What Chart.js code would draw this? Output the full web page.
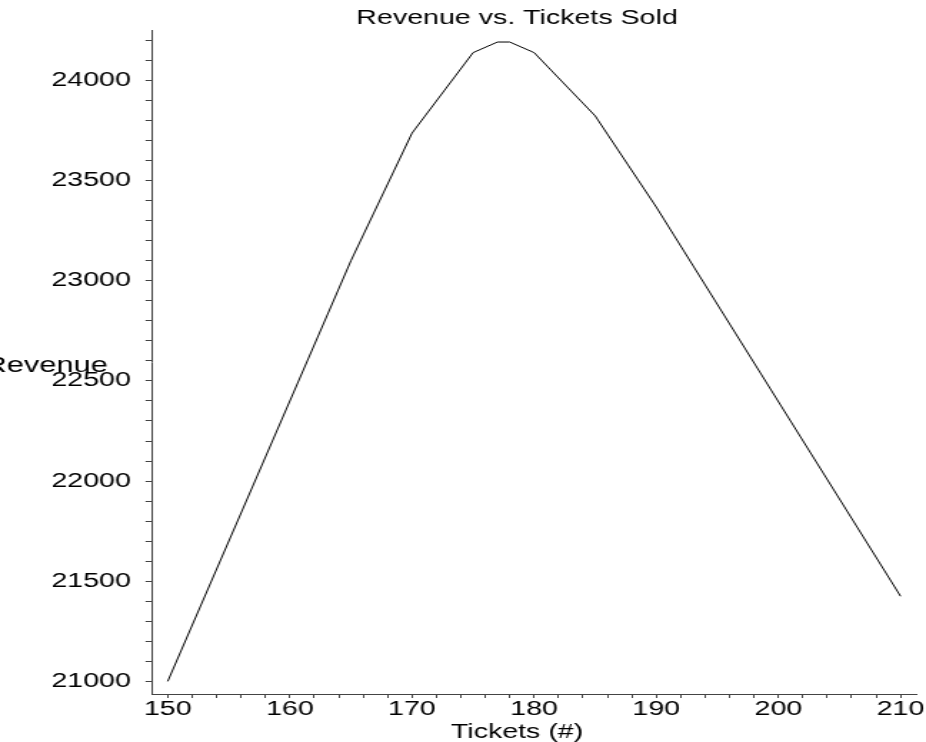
<!DOCTYPE html>
<html>
<head>
<meta charset="utf-8">
<title>Revenue vs. Tickets Sold</title>
<script src="https://cdn.jsdelivr.net/npm/chart.js@4/dist/chart.umd.min.js"></script>
<style>
  html, body { margin: 0; padding: 0; background: #fff; overflow: hidden; }
  /* the original plot has its text stretched sideways, so the chart is drawn narrow and widened */
  #wrap { width: 648px; height: 742px; transform: scaleX(1.42901); transform-origin: 0 0; }
</style>
</head>
<body>
<div id="wrap"><canvas id="revenueChart"></canvas></div>
<script>
const tickets = [150, 165, 170, 175, 177, 178, 180, 185, 190, 210];
const revenue = [21000, 23100, 23737, 24139, 24192, 24192, 24139, 23823, 23368, 21425];

const chartTitle = 'Revenue vs. Tickets Sold';
const xTitle = 'Tickets (#)';
const yTitle = 'Revenue';

const font = '"Liberation Sans", Arial, sans-serif';
const axisColor = '#444';

// Maple writes the y label horizontally, beside the middle of the axis
const yLabelPlugin = {
    id: 'yLabel',
    afterDraw(chart) {
        const { ctx, chartArea } = chart;
        ctx.save();
        ctx.font = '21.5px ' + font;
        ctx.fillStyle = '#000';
        ctx.textAlign = 'right';
        ctx.textBaseline = 'middle';
        ctx.fillText(yTitle, chartArea.left - 31.5, (chartArea.top + chartArea.bottom) / 2 + 4);
        ctx.restore();
    }
};

const ctx = document.getElementById('revenueChart').getContext('2d');
new Chart(ctx, {
    type: 'line',
    data: {
        datasets: [{
            data: tickets.map((t, i) => ({ x: t, y: revenue[i] })),
            borderColor: '#000',
            borderWidth: 1,
            pointRadius: 0,
            tension: 0,
            fill: false
        }]
    },
    options: {
        animation: false,
        responsive: true,
        maintainAspectRatio: false,
        layout: {
            padding: { left: 82.1, right: 6.5, top: 6, bottom: 3.5 }
        },
        plugins: {
            legend: { display: false },
            tooltip: { enabled: false },
            title: {
                display: true,
                text: chartTitle,
                color: '#000',
                font: { family: font, size: 20, weight: 'normal' },
                padding: { top: 0, bottom: 0 }
            },
            subtitle: {
                display: true,
                text: xTitle,
                position: 'bottom',
                color: '#000',
                font: { family: font, size: 20, weight: 'normal', lineHeight: 0.6 },
                padding: { top: 6.5, bottom: 0 }
            }
        },
        scales: {
            x: {
                type: 'linear',
                min: 148.77,
                max: 211.28,
                border: { color: axisColor, width: 1 },
                grid: { drawOnChartArea: false, tickLength: 4, tickColor: axisColor },
                afterBuildTicks: scale => {
                    scale.ticks = scale.ticks.filter(t => Math.abs(t.value % 2) < 1e-6);
                },
                ticks: {
                    stepSize: 2,
                    includeBounds: false,
                    autoSkip: false,
                    maxRotation: 0,
                    padding: 1,
                    color: '#000',
                    font: { family: font, size: 20, lineHeight: 1 },
                    callback: v => (Math.round(v) % 10 === 0 ? String(Math.round(v)) : '')
                }
            },
            y: {
                min: 20937,
                max: 24252,
                border: { color: axisColor, width: 1 },
                grid: { drawOnChartArea: false, tickLength: 5, tickColor: axisColor },
                afterFit: scale => { scale.width = 24.75; },
                afterBuildTicks: scale => {
                    scale.ticks = scale.ticks.filter(t => Math.abs(t.value % 100) < 1e-6);
                },
                ticks: {
                    stepSize: 100,
                    includeBounds: false,
                    autoSkip: false,
                    // labels sit left of the narrow axis box; mirror keeps them from being clipped
                    mirror: true,
                    crossAlign: 'far',
                    padding: -70.95,
                    color: '#000',
                    font: { family: font, size: 20 },
                    callback: v => (Math.round(v) % 500 === 0 ? String(Math.round(v)) : '')
                }
            }
        }
    },
    plugins: [yLabelPlugin]
});
</script>
</body>
</html>
